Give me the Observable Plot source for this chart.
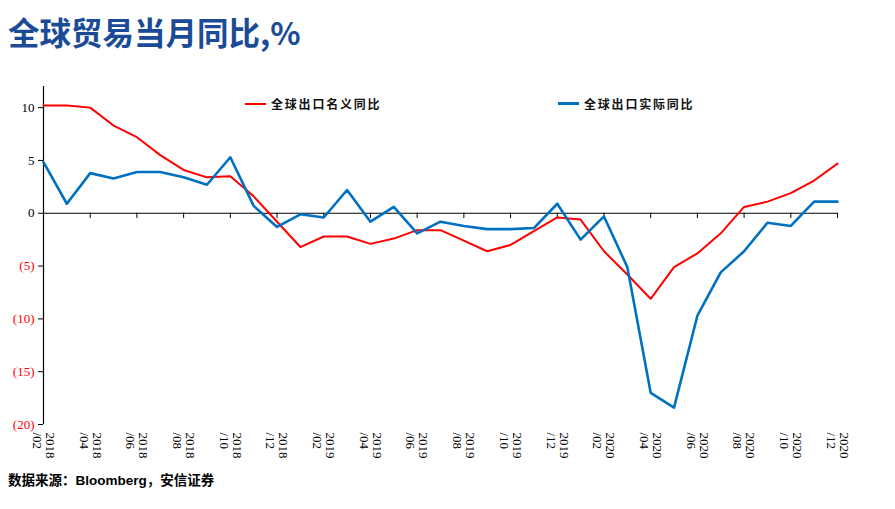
<!DOCTYPE html>
<html>
<head>
<meta charset="utf-8">
<script src="https://cdn.jsdelivr.net/npm/d3@7"></script>
<script src="https://cdn.jsdelivr.net/npm/@observablehq/plot@0.6"></script>
<style>
  html, body { margin: 0; padding: 0; background: #fff; }
  #wrap { position: relative; width: 895px; height: 509px; overflow: hidden; }
  #title { height: 60px; box-sizing: border-box; padding: 13px 0 0 8px; line-height: 36px;
    font-family: "Noto Sans CJK SC", "Liberation Sans", sans-serif; font-weight: bold; font-size: 31.5px; color: #1B4B97; white-space: nowrap; }
  #chart svg { display: block; }
  #caption { height: 22px; line-height: 22px; padding-left: 8px; font-family: "Liberation Sans", "Noto Sans CJK SC", sans-serif;
    font-weight: bold; font-size: 13.5px; color: #000; white-space: nowrap; }
  .leg { position: absolute; display: flex; align-items: center; font-family: "Noto Sans CJK SC", serif; font-size: 12px;
    font-weight: bold; letter-spacing: 1.8px; color: #111; white-space: nowrap; }
  .leg span.sw { display: inline-block; width: 21px; height: 2px; margin-right: 5px; }
</style>
</head>
<body>
<div id="wrap">
  <div id="title">全球贸易当月同比,%</div>
  <div id="chart"></div>
  <div id="caption">数据来源：Bloomberg，安信证券</div>
  <div class="leg" style="left:245px; top:95px;"><span class="sw" style="background:#FF0000"></span>全球出口名义同比</div>
  <div class="leg" style="left:558px; top:95px;"><span class="sw" style="background:#0070C0;height:3px"></span>全球出口实际同比</div>
</div>
<script>
const months = ["2018/02","2018/03","2018/04","2018/05","2018/06","2018/07","2018/08","2018/09","2018/10","2018/11","2018/12",
  "2019/01","2019/02","2019/03","2019/04","2019/05","2019/06","2019/07","2019/08","2019/09","2019/10","2019/11","2019/12",
  "2020/01","2020/02","2020/03","2020/04","2020/05","2020/06","2020/07","2020/08","2020/09","2020/10","2020/11","2020/12"];
const nominal = [10.2, 10.2, 10.0, 8.3, 7.2, 5.5, 4.1, 3.4, 3.5, 1.6, -0.8, -3.2, -2.2, -2.2, -2.9, -2.4, -1.6, -1.6,
  -2.6, -3.6, -3.0, -1.7, -0.4, -0.6, -3.6, -5.8, -8.1, -5.1, -3.8, -1.9, 0.6, 1.1, 1.9, 3.1, 4.7];
const real = [4.85, 0.9, 3.8, 3.3, 3.9, 3.9, 3.4, 2.7, 5.3, 0.7, -1.3, -0.1, -0.4, 2.2, -0.8, 0.6, -1.9, -0.8,
  -1.2, -1.5, -1.5, -1.4, 0.9, -2.5, -0.3, -5.1, -17.0, -18.4, -9.7, -5.6, -3.6, -0.9, -1.2, 1.1, 1.1];
const xTickLabels = months.filter((m, i) => i % 2 === 0);
const yTicksPos = [0, 5, 10];
const yTicksNeg = [-20, -15, -10, -5];
const seriesNames = ["全球出口名义同比", "全球出口实际同比"];

const nominalData = months.map((m, i) => ({month: m, value: nominal[i]}));
const realData = months.map((m, i) => ({month: m, value: real[i]}));

const serif = "Liberation Serif, Times New Roman, serif";
const chart = Plot.plot({
  width: 895,
  height: 410,
  marginLeft: 43,
  marginRight: 58,
  marginTop: 26,
  marginBottom: 46,
  style: {fontFamily: serif, fontSize: "13px", background: "#fff"},
  x: {type: "point", domain: months, padding: 0, round: false, axis: null, label: null},
  y: {domain: [-20, 12], axis: null, label: null},
  marks: [
    Plot.ruleY([0], {stroke: "#000", strokeWidth: 1}),
    Plot.ruleX([months[0]], {x: d => d, y1: -20, y2: 12, stroke: "#000", strokeWidth: 1.2}),
    Plot.ruleX(xTickLabels, {x: d => d, y1: 0, y2: -0.5, stroke: "#000"}),
    Plot.axisY(yTicksPos, {anchor: "left", label: null, tickSize: 5, tickPadding: 4, stroke: "#000", fill: "#000", fontSize: 13, fontFamily: serif}),
    Plot.axisY(yTicksNeg, {anchor: "left", label: null, tickSize: 5, tickPadding: 4, stroke: "#000", fill: "#FF0000", fontSize: 13, fontFamily: serif,
      tickFormat: d => `(${-d})`}),
    Plot.axisX(xTickLabels, {anchor: "bottom", label: null, tickSize: 0, tickPadding: 8, tickRotate: 90, fontSize: 13, fontFamily: serif,
      fill: "#000", tickFormat: d => d.replace("/", "\n/")}),
    Plot.line(nominalData, {x: "month", y: "value", stroke: "#FF0000", strokeWidth: 2}),
    Plot.line(realData, {x: "month", y: "value", stroke: "#0070C0", strokeWidth: 2.6})
  ]
});
document.getElementById("chart").appendChild(chart);
</script>
</body>
</html>
